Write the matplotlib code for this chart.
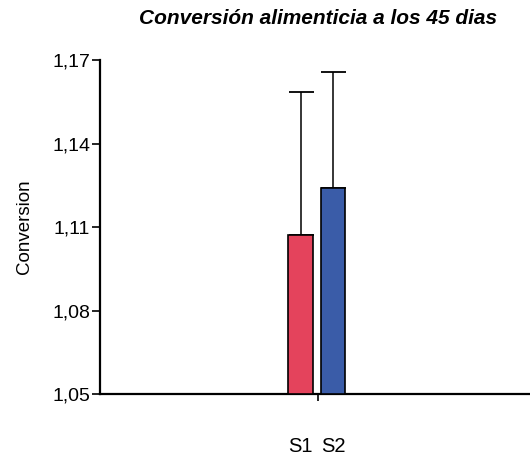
import matplotlib.pyplot as plt
from matplotlib.ticker import FixedLocator

# Feed conversion at 45 days, mean and upper error per treatment
labels = ["S1", "S2"]
conversion = [1.107, 1.124]
error = [0.0515, 0.0418]
yticks = [1.05, 1.08, 1.11, 1.14, 1.17]
ytick_labels = ["1,05", "1,08", "1,11", "1,14", "1,17"]
colors = ["#e4435c", "#3a5ca8"]

plt.rcParams["font.family"] = ["Liberation Sans", "DejaVu Sans"]

W, H = 530, 455
fig = plt.figure(figsize=(W / 100, H / 100), dpi=100)
ax = fig.add_axes([100 / W, (H - 394) / H, 436 / W, 334 / H])

pos = [-0.08, 0.069]
ax.bar(pos, [v - 1.05 for v in conversion], bottom=1.05, width=0.113,
       color=colors, edgecolor="black", linewidth=1.2, zorder=3)
ax.errorbar(pos, conversion, yerr=[[0, 0], error], fmt="none",
            ecolor="black", elinewidth=1.1, capsize=9, capthick=1.3, zorder=2)

ax.set_xlim(-1, 1)
ax.set_ylim(1.05, 1.17)
ax.set_yticks(yticks)
ax.set_yticklabels(ytick_labels, fontsize=14)
ax.set_xticks(pos)
ax.set_xticklabels(labels, fontsize=14.5)
ax.tick_params(axis="x", length=0, pad=31)
ax.xaxis.set_minor_locator(FixedLocator([0]))
ax.tick_params(axis="x", which="minor", length=5, width=1.2)
ax.tick_params(axis="y", length=6, width=1.2, pad=1)

for side in ["top", "right"]:
    ax.spines[side].set_visible(False)
for side in ["left", "bottom"]:
    ax.spines[side].set_linewidth(1.6)

ax.set_ylabel("Conversion", fontsize=13.5, labelpad=14)
ax.set_title("Conversión alimenticia a los 45 dias", fontsize=15,
             fontweight="bold", fontstyle="italic", pad=26)

fig.savefig("out.png", dpi=100)
